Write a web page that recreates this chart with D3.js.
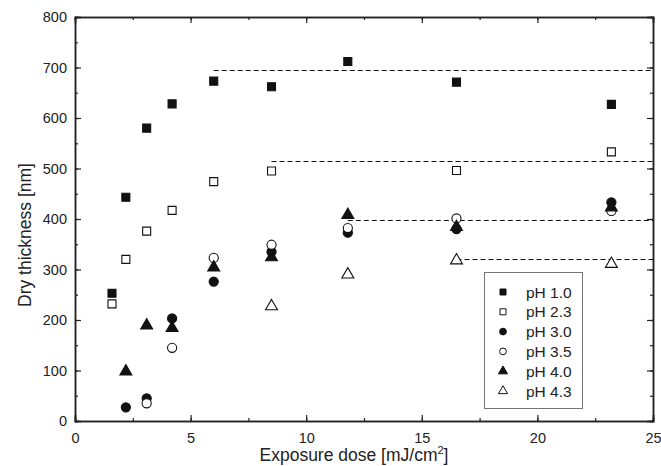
<!DOCTYPE html>
<html>
<head>
<meta charset="utf-8">
<script src="https://cdn.jsdelivr.net/npm/d3@7"></script>
<style>
    body { margin: 0; background: #fff; }
    text { font-family: "Liberation Sans", Arial, sans-serif; fill: #222; }
    .axisLabel { font-size: 17.5px; }
    .legend text { font-size: 15.5px; }
</style>
</head>
<body>
<div id="canvas"></div>
<script>
"use strict"

let svgWidth = 661
let svgHeight = 466

let margin = { top: 17, right: 8, bottom: 45, left: 75 }
let width = svgWidth - margin.left - margin.right
let height = svgHeight - margin.top - margin.bottom

// ---------------- DATA ----------------
let doses = [1.6, 2.2, 3.1, 4.2, 6.0, 8.5, 11.8, 16.5, 23.2]
let seriesNames = ["pH 1.0", "pH 2.3", "pH 3.0", "pH 3.5", "pH 4.0", "pH 4.3"]
let ph10 = [253, 443, 580, 628, 673, 662, 712, 671, 627]
let ph23 = [232, 320, 376, 417, 474, 495, null, 496, 533]
let ph30 = [null, 27, 45, 203, 276, 335, 373, 380, 433]
let ph35 = [null, null, 35, 145, 323, 349, 382, 401, 416]
let ph40 = [null, 100, 191, 186, 306, 326, 410, 386, 425]
let ph43 = [null, null, null, null, null, 229, 292, 320, 313]
let plateaus = [
    { level: 695, from: 6.0 },
    { level: 515, from: 8.5 },
    { level: 398, from: 11.8 },
    { level: 321, from: 16.5 }
]
let xTicks = [0, 5, 10, 15, 20, 25]
let yTicks = [0, 100, 200, 300, 400, 500, 600, 700, 800]

let allSeries = [ph10, ph23, ph30, ph35, ph40, ph43]
let shapes = ["square", "square", "circle", "circle", "triangle", "triangle"]
let filled = [true, false, true, false, true, false]

let svg = d3.select("#canvas")
    .append("svg")
    .attr("width", svgWidth)
    .attr("height", svgHeight)

let viz = svg.append("g")
    .attr("transform", `translate(${margin.left},${margin.top})`)

let xScale = d3.scaleLinear().domain([0, 25]).range([0, width])
let yScale = d3.scaleLinear().domain([0, 800]).range([height, 0])

// ---------------- AXES ----------------
function styleAxis(g) {
    g.select(".domain").attr("stroke", "#222").attr("stroke-width", 1.5)
    g.selectAll(".tick line").attr("stroke", "#222").attr("stroke-width", 1.2)
}

let xMinor = d3.range(0, 25.1, 2.5)
let yMinor = d3.range(0, 801, 50)

viz.append("g").attr("transform", `translate(0,${height})`)
    .call(d3.axisBottom(xScale).tickValues(xMinor).tickSize(-3).tickFormat(""))
    .call(styleAxis)
viz.append("g").attr("transform", `translate(0,${height})`)
    .call(d3.axisBottom(xScale).tickValues(xTicks).tickSize(-6).tickPadding(12).tickFormat(d3.format("d")))
    .call(styleAxis)
viz.append("g")
    .call(d3.axisTop(xScale).tickValues(xMinor).tickSize(-3).tickFormat(""))
    .call(styleAxis)
viz.append("g")
    .call(d3.axisTop(xScale).tickValues(xTicks).tickSize(-6).tickFormat(""))
    .call(styleAxis)
viz.append("g")
    .call(d3.axisLeft(yScale).tickValues(yMinor).tickSize(-3).tickFormat(""))
    .call(styleAxis)
viz.append("g")
    .call(d3.axisLeft(yScale).tickValues(yTicks).tickSize(-6).tickPadding(8).tickFormat(d3.format("d")))
    .call(styleAxis)
viz.append("g").attr("transform", `translate(${width},0)`)
    .call(d3.axisRight(yScale).tickValues(yMinor).tickSize(-3).tickFormat(""))
    .call(styleAxis)
viz.append("g").attr("transform", `translate(${width},0)`)
    .call(d3.axisRight(yScale).tickValues(yTicks).tickSize(-6).tickFormat(""))
    .call(styleAxis)

viz.selectAll(".tick text")
    .style("font-size", "14.5px")
    .style("font-family", "'Liberation Sans', Arial, sans-serif")
    .attr("fill", "#222")

let xLabel = viz.append("text")
    .attr("class", "axisLabel")
    .attr("x", 354 - margin.left)
    .attr("y", height + 40)
    .attr("text-anchor", "middle")
xLabel.append("tspan").text("Exposure dose [mJ/cm")
xLabel.append("tspan").attr("dy", -7).style("font-size", "11px").text("2")
xLabel.append("tspan").attr("dy", 7).text("]")

viz.append("text")
    .attr("class", "axisLabel")
    .attr("transform", "rotate(-90)")
    .attr("x", -(235 - margin.top))
    .attr("y", -44)
    .attr("text-anchor", "middle")
    .text("Dry thickness [nm]")

// ---------------- PLATEAU LINES ----------------
viz.selectAll("line.plateau")
    .data(plateaus)
    .enter()
    .append("line")
    .attr("class", "plateau")
    .attr("x1", d => xScale(d.from))
    .attr("x2", xScale(25))
    .attr("y1", d => Math.round(yScale(d.level)) + 0.5)
    .attr("y2", d => Math.round(yScale(d.level)) + 0.5)
    .attr("stroke", "#111")
    .attr("stroke-width", 1.1)
    .attr("stroke-dasharray", "5,3")

// ---------------- MARKERS ----------------
function symbolFor(shape, size) {
    let type = shape === "square" ? d3.symbolSquare
        : shape === "circle" ? d3.symbolCircle : d3.symbolTriangle
    return d3.symbol().type(type).size(size)()
}

let sizes = { square: 64, circle: 66, triangle: 62 }

allSeries.forEach(function(values, i) {
    let pts = doses.map((x, j) => ({ x: x, y: values[j] })).filter(d => d.y !== null)
    viz.append("g")
        .selectAll("path")
        .data(pts)
        .enter()
        .append("path")
        .attr("transform", d => `translate(${xScale(d.x)},${yScale(d.y) + (shapes[i] === "triangle" ? 1 : 0)})`)
        .attr("d", symbolFor(shapes[i], sizes[shapes[i]]))
        .attr("fill", filled[i] ? "#111" : "#fff")
        .attr("stroke", "#111")
        .attr("stroke-width", 1.1)
})

// ---------------- LEGEND ----------------
let legend = svg.append("g").attr("class", "legend")

legend.append("rect")
    .attr("x", 484.5)
    .attr("y", 272.5)
    .attr("width", 98)
    .attr("height", 136)
    .attr("fill", "#fff")
    .attr("stroke", "#777")
    .attr("stroke-width", 1)

legend.selectAll("path")
    .data(seriesNames)
    .enter()
    .append("path")
    .attr("transform", (d, i) => `translate(503,${292 + i * 19.8})`)
    .attr("d", (d, i) => symbolFor(shapes[i], 36))
    .attr("fill", (d, i) => filled[i] ? "#111" : "#fff")
    .attr("stroke", "#111")
    .attr("stroke-width", 1)

legend.selectAll("text")
    .data(seriesNames)
    .enter()
    .append("text")
    .attr("x", 526)
    .attr("y", (d, i) => 292 + i * 19.8)
    .attr("dominant-baseline", "central")
    .text(d => d)
</script>
</body>
</html>
